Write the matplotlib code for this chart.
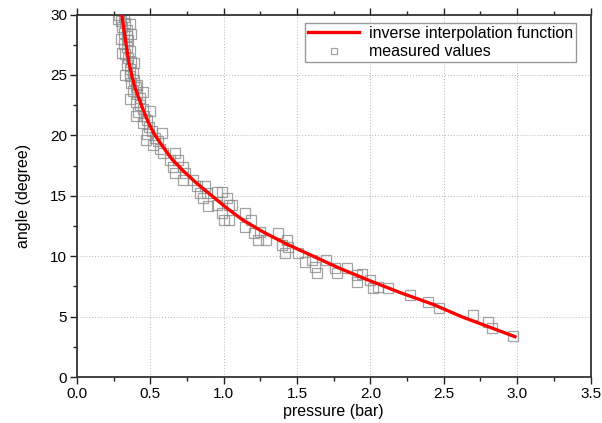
import matplotlib
matplotlib.use('Agg')
import matplotlib.pyplot as plt
from matplotlib.ticker import MultipleLocator

plt.rcParams['font.family'] = ['Liberation Sans', 'DejaVu Sans']

# inverse interpolation curve
curve_p = [0.306, 0.33, 0.355, 0.374, 0.395, 0.425, 0.455, 0.49, 0.533, 0.59, 0.65,
           0.73, 0.82, 0.92, 1.02, 1.13, 1.27, 1.43, 1.61, 1.79, 1.99, 2.2, 2.43,
           2.62, 2.84, 2.985]
curve_a = [30, 28, 26, 25, 24, 23, 22, 21, 20, 19, 18,
           17, 16, 15, 14, 13, 12, 11, 10, 9, 8, 7, 6,
           5, 4, 3.34]

# measured values
meas_p = [0.29, 0.32, 0.30, 0.33, 0.31, 0.34, 0.32, 0.34, 0.35, 0.32, 0.34, 0.36,
          0.33, 0.35, 0.37, 0.34, 0.36, 0.38, 0.36, 0.39, 0.37, 0.40, 0.38, 0.41,
          0.43, 0.40, 0.43, 0.45, 0.42, 0.46, 0.48, 0.45, 0.49, 0.51, 0.48, 0.53,
          0.55, 0.52, 0.57,
          0.28, 0.36, 0.30, 0.37, 0.31, 0.39, 0.33, 0.41, 0.36, 0.45, 0.40, 0.50,
          0.47, 0.58,
          0.59, 0.67, 0.635, 0.69, 0.656, 0.72, 0.67, 0.74, 0.725, 0.79, 0.817,
          0.87, 0.84, 0.89, 0.953, 0.987, 1.02, 0.86, 1.04, 0.896, 0.953, 0.987,
          1.04, 1.0,
          1.055, 1.146, 1.146, 1.19, 1.21, 1.25, 1.237, 1.29, 1.37, 1.396, 1.43,
          1.44, 1.418, 1.51, 1.554, 1.6, 1.62, 1.634, 1.70, 1.759, 1.77, 1.84,
          1.906, 1.91, 1.94, 2.0, 2.02, 2.05, 2.12, 2.27, 2.39, 2.47, 2.70, 2.80,
          2.83, 2.97]
meas_a = [30.0, 29.8, 29.5, 29.3, 29.0, 28.7, 28.5, 28.2, 27.9, 27.6, 27.3, 27.0,
          26.7, 26.4, 26.1, 25.8, 25.5, 25.2, 24.9, 24.6, 24.3, 24.0, 23.7, 23.4,
          23.1, 22.8, 22.5, 22.2, 21.9, 21.6, 21.3, 21.0, 20.7, 20.4, 20.1, 19.8,
          19.5, 19.2, 18.9,
          29.6, 29.2, 28.0, 28.4, 26.8, 26.0, 25.0, 24.2, 23.0, 23.6, 21.6, 22.0,
          19.6, 20.2,
          18.5, 18.5, 17.97, 17.97, 17.4, 17.4, 16.9, 16.9, 16.3, 16.3, 15.77,
          15.77, 15.2, 15.2, 15.35, 15.35, 14.8, 14.8, 14.25, 14.17, 14.25, 13.56,
          13.0, 13.0,
          14.25, 13.55, 12.45, 13.0, 11.9, 12.04, 11.35, 11.35, 11.9, 10.95, 11.35,
          10.8, 10.25, 10.25, 9.55, 9.7, 9.14, 8.6, 9.7, 9.0, 8.6, 9.0,
          8.45, 7.9, 8.5, 8.04, 7.4, 7.48, 7.35, 6.8, 6.24, 5.69, 5.14, 4.58,
          4.03, 3.42]

fig = plt.figure(figsize=(6.02, 4.23), dpi=100)
ax = fig.add_axes([0.1276, 0.1087, 0.8534, 0.857])

ax.plot(meas_p, meas_a, linestyle='none', marker='s', markersize=7,
        markerfacecolor='none', markeredgecolor='#8c8c8c', markeredgewidth=0.9,
        alpha=0.8, label='measured values', zorder=2)
ax.plot(curve_p, curve_a, color='#ff0000', lw=2.4, label='inverse interpolation function',
        zorder=3)

ax.set_xlim(0, 3.5)
ax.set_ylim(0, 30)
ax.xaxis.set_major_locator(MultipleLocator(0.5))
ax.xaxis.set_minor_locator(MultipleLocator(0.25))
ax.yaxis.set_major_locator(MultipleLocator(5))
ax.yaxis.set_minor_locator(MultipleLocator(2.5))
ax.xaxis.set_major_formatter(matplotlib.ticker.FormatStrFormatter('%.1f'))

ax.tick_params(which='both', direction='out', top=True, right=False,
               labelsize=11, width=1.0, colors='#222222', labelcolor='black', pad=2)
ax.tick_params(which='major', length=5)
ax.tick_params(which='minor', length=3)
for s in ax.spines.values():
    s.set_linewidth(1.3)
    s.set_color('#333333')

ax.grid(True, which='major', linestyle=(0, (1, 2)), color='#b5b5b5', lw=0.7)
ax.set_axisbelow(True)

ax.set_xlabel('pressure (bar)', fontsize=11.5, labelpad=2)
ax.set_ylabel('angle (degree)', fontsize=11.5, labelpad=14)

handles, labels = ax.get_legend_handles_labels()
leg = ax.legend(handles[::-1], labels[::-1], loc='upper right', fontsize=11.5,
                fancybox=False, framealpha=1, edgecolor='#999999',
                handlelength=3.2, borderpad=0.2, borderaxespad=0,
                labelspacing=0.2, handletextpad=0.6,
                bbox_to_anchor=(0.972, 0.977))
leg.get_frame().set_linewidth(1.0)
leg.legend_handles[1].set_markersize(5)

fig.savefig('out.png', dpi=100)
